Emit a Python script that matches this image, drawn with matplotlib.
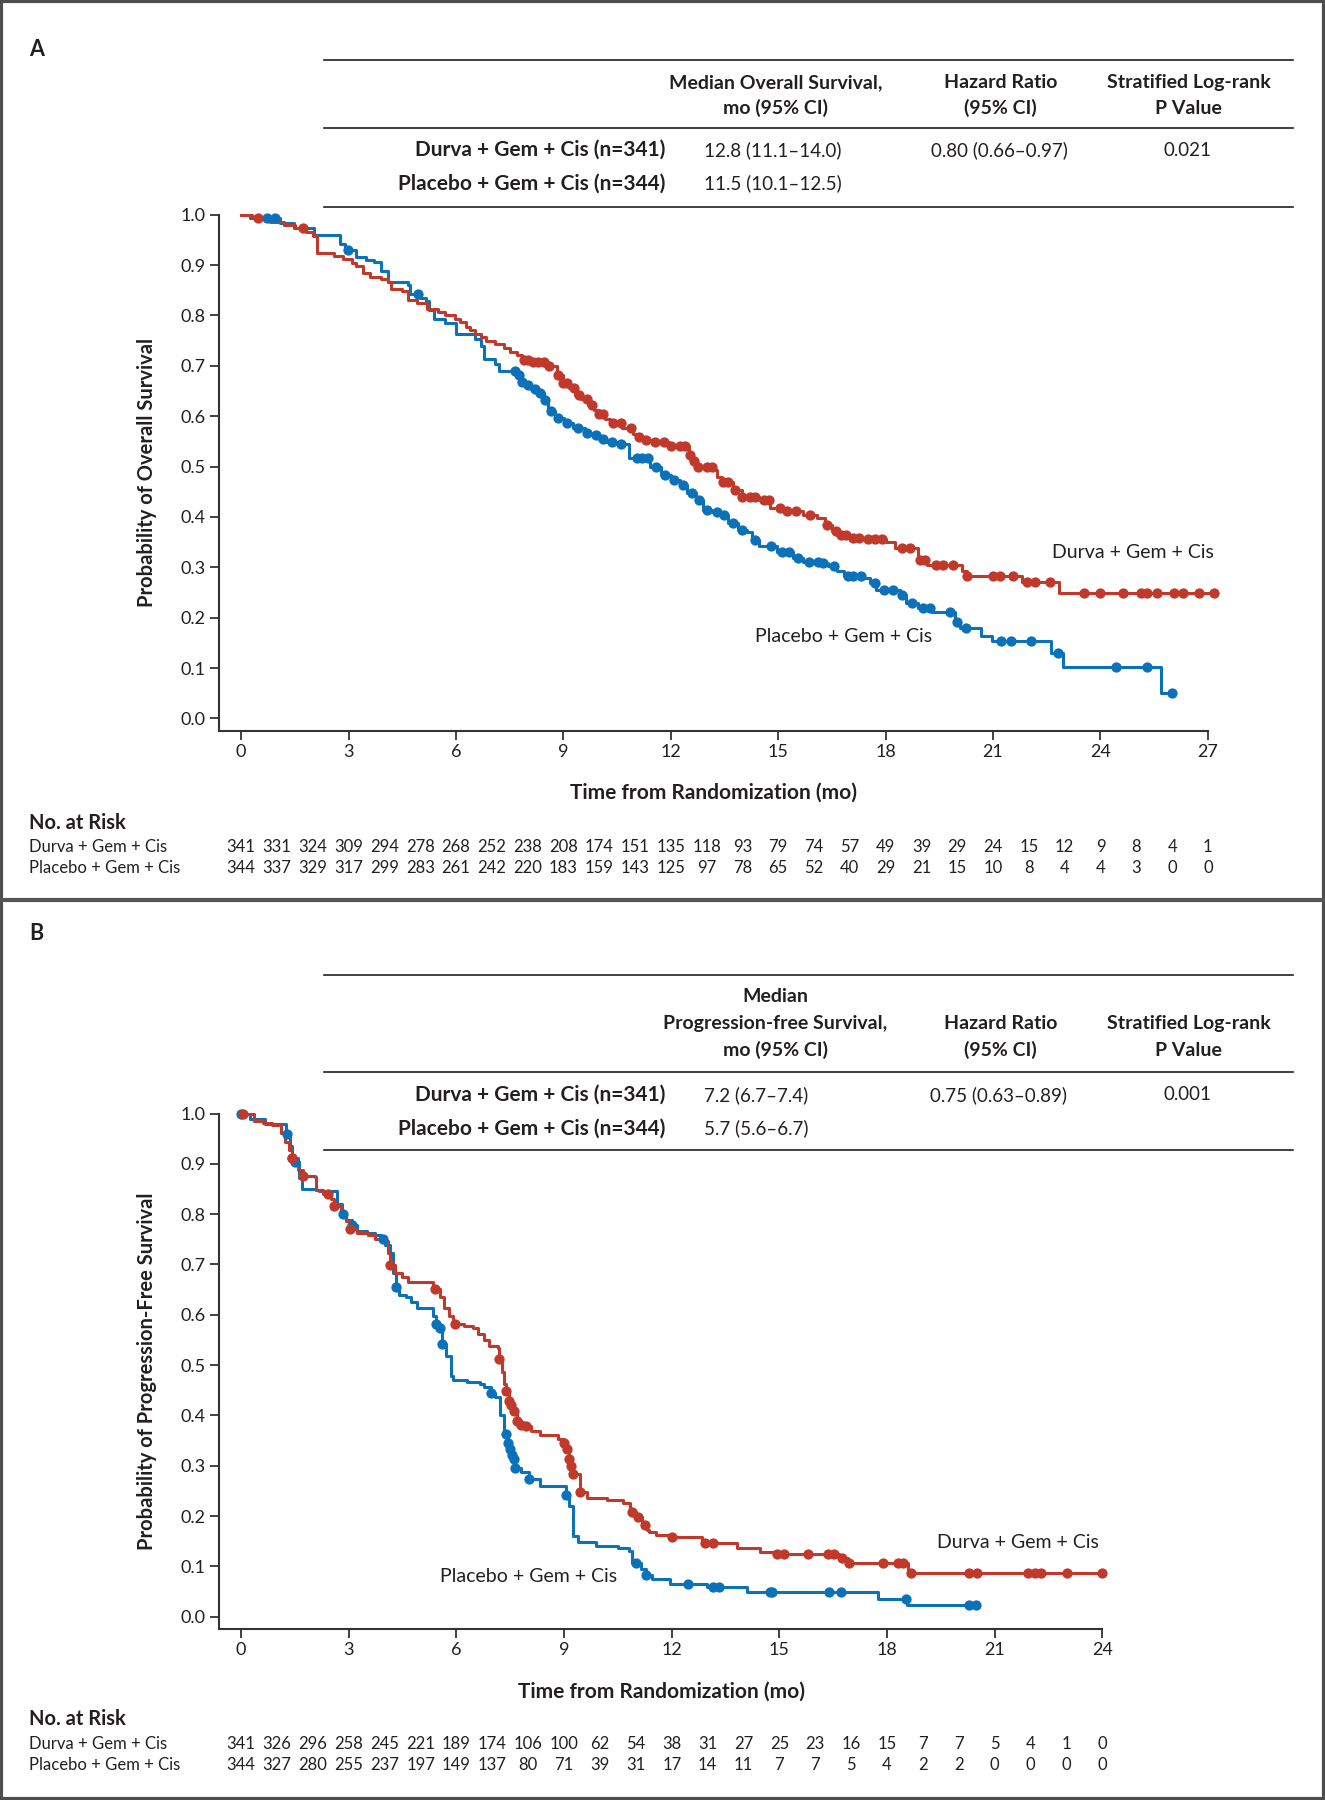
import numpy as np
import matplotlib
matplotlib.use('Agg')
import matplotlib.pyplot as plt
from matplotlib.lines import Line2D
from matplotlib.patches import Rectangle

plt.rcParams['font.family'] = ['Lato', 'DejaVu Sans']

RED = '#C0392B'
BLUE = '#0B72B9'
INK = '#231F20'

# ---- Panel A: overall survival (step times, survival after step) ----
os_durva_t = [0, 0.3, 0.8, 1.2, 1.5, 1.8, 2.0, 2.13, 2.6, 2.85, 3.1, 3.2, 3.4, 3.6, 3.9,
              4.1, 4.2, 4.5, 4.66, 4.9, 5.2, 5.5, 5.7, 5.96, 6.1, 6.27, 6.4, 6.52, 6.7,
              6.83, 7.08, 7.33, 7.5, 7.7, 7.85, 8.1, 8.5, 8.83, 9.0, 9.15, 9.32, 9.5,
              9.7, 9.85, 10.0, 10.15, 10.3, 10.63, 10.94, 11.1, 11.29, 11.55, 11.94,
              12.5, 12.6, 12.7, 13.16, 13.3, 13.42, 13.74, 14.0, 14.45, 14.78, 15.16,
              15.68, 16.07, 16.32, 16.5, 16.65, 16.97, 17.49, 18.0, 18.26, 18.9, 19.16,
              20.13, 20.26, 21.81, 22.84, 27.17]
os_durva_s = [1.0, 0.994, 0.986, 0.98, 0.974, 0.965, 0.957, 0.923, 0.918, 0.913, 0.905,
              0.899, 0.884, 0.877, 0.872, 0.867, 0.852, 0.849, 0.831, 0.824, 0.813, 0.806,
              0.800, 0.792, 0.786, 0.778, 0.771, 0.764, 0.757, 0.750, 0.743, 0.735, 0.728,
              0.721, 0.712, 0.707, 0.700, 0.682, 0.665, 0.655, 0.643, 0.635, 0.622, 0.612,
              0.604, 0.595, 0.587, 0.576, 0.565, 0.558, 0.553, 0.549, 0.540, 0.523, 0.512,
              0.500, 0.493, 0.480, 0.470, 0.454, 0.440, 0.434, 0.417, 0.411, 0.404, 0.397,
              0.384, 0.372, 0.364, 0.358, 0.356, 0.351, 0.338, 0.315, 0.305, 0.292, 0.283,
              0.270, 0.248, 0.248]
os_durva_cens = [0.46, 1.73, 7.9, 8.0, 8.15, 8.3, 8.45, 8.6, 8.85, 9.0, 9.1, 9.3, 9.45,
                 9.65, 9.8, 10.0, 10.1, 10.4, 10.6, 10.9, 11.1, 11.3, 11.55, 11.8, 12.0,
                 12.25, 12.4, 12.55, 12.65, 12.75, 13.0, 13.15, 13.45, 13.6, 13.8, 14.0,
                 14.2, 14.35, 14.6, 14.75, 15.05, 15.25, 15.5, 15.9, 16.35, 16.6, 16.75,
                 16.9, 17.1, 17.25, 17.5, 17.7, 17.9, 18.45, 18.67, 18.95, 19.1, 19.42,
                 19.6, 19.87, 20.26, 21.0, 21.2, 21.55, 21.94, 22.16, 22.58, 23.53, 24.0,
                 24.62, 25.13, 25.3, 25.58, 26.04, 26.3, 26.74, 27.17]

os_plac_t = [0, 0.25, 1.1, 1.48, 2.04, 2.75, 2.9, 3.22, 3.5, 3.72, 3.9, 4.1, 4.66, 4.72,
             5.0, 5.15, 5.25, 5.4, 5.7, 6.0, 6.52, 6.7, 6.77, 7.08, 7.2, 7.7, 7.8, 7.95,
             8.1, 8.33, 8.45, 8.58, 8.76, 9.01, 9.26, 9.6, 9.76, 10.0, 10.2, 10.5, 10.82,
             11.42, 11.74, 12.0, 12.26, 12.45, 12.71, 12.9, 13.16, 13.42, 13.6, 13.87,
             14.13, 14.26, 14.45, 14.97, 15.42, 15.68, 16.2, 16.39, 16.65, 16.84, 17.36,
             17.55, 17.74, 18.39, 18.58, 18.9, 19.29, 19.94, 20.07, 20.65, 20.97, 22.62,
             22.94, 25.68, 26.0]
os_plac_s = [1.0, 0.993, 0.984, 0.973, 0.959, 0.941, 0.93, 0.916, 0.91, 0.906, 0.888,
             0.867, 0.86, 0.842, 0.835, 0.828, 0.81, 0.792, 0.785, 0.764, 0.753, 0.74,
             0.714, 0.704, 0.689, 0.682, 0.668, 0.661, 0.654, 0.647, 0.633, 0.611, 0.597,
             0.587, 0.576, 0.566, 0.562, 0.555, 0.548, 0.544, 0.517, 0.5, 0.483, 0.474,
             0.464, 0.447, 0.434, 0.414, 0.409, 0.404, 0.388, 0.374, 0.371, 0.354, 0.343,
             0.331, 0.318, 0.311, 0.308, 0.302, 0.292, 0.282, 0.278, 0.269, 0.255, 0.245,
             0.229, 0.219, 0.212, 0.192, 0.179, 0.163, 0.153, 0.13, 0.103, 0.05, 0.05]
os_plac_cens = [0.73, 0.95, 2.98, 4.93, 7.64, 7.75, 7.85, 8.0, 8.2, 8.35, 8.5, 8.65, 8.85,
                9.1, 9.4, 9.65, 9.9, 10.1, 10.35, 10.6, 11.05, 11.2, 11.35, 11.6, 11.85,
                12.1, 12.35, 12.6, 12.8, 13.0, 13.3, 13.5, 13.75, 14.0, 14.35, 14.8, 15.1,
                15.3, 15.55, 15.85, 16.1, 16.25, 16.55, 16.95, 17.1, 17.3, 17.7, 17.95,
                18.2, 18.45, 18.75, 19.05, 19.25, 19.8, 20.0, 20.25, 21.23, 21.49, 22.07,
                22.82, 24.42, 25.3, 26.0]

# ---- Panel B: progression-free survival ----
pfs_durva_t = [0, 0.36, 0.6, 0.86, 1.1, 1.23, 1.32, 1.42, 1.58, 1.73, 2.05, 2.1, 2.29, 2.5,
               2.6, 2.79, 2.91, 3.04, 3.22, 3.54, 3.72, 4.03, 4.1, 4.16, 4.28, 4.47, 4.66,
               5.36, 5.53, 5.65, 5.78, 5.9, 6.21, 6.46, 6.6, 6.77, 6.9, 7.15, 7.18, 7.27,
               7.33, 7.39, 7.46, 7.52, 7.6, 7.68, 7.8, 7.95, 8.08, 8.33, 8.83, 9.01, 9.07,
               9.14, 9.2, 9.26, 9.45, 9.64, 10.2, 10.63, 10.84, 11.0, 11.16, 11.3, 11.36,
               11.55, 11.94, 12.84, 13.81, 14.45, 14.9, 16.65, 16.9, 18.58, 24.0]
pfs_durva_s = [1.0, 0.986, 0.982, 0.978, 0.962, 0.943, 0.927, 0.911, 0.888, 0.876, 0.873,
               0.848, 0.84, 0.83, 0.817, 0.80, 0.786, 0.77, 0.762, 0.758, 0.75, 0.746,
               0.723, 0.699, 0.683, 0.676, 0.666, 0.652, 0.636, 0.613, 0.597, 0.581, 0.577,
               0.573, 0.562, 0.55, 0.538, 0.534, 0.512, 0.487, 0.463, 0.448, 0.428, 0.42,
               0.408, 0.389, 0.381, 0.379, 0.369, 0.361, 0.353, 0.346, 0.334, 0.314, 0.299,
               0.283, 0.247, 0.236, 0.232, 0.225, 0.208, 0.198, 0.182, 0.173, 0.169, 0.163,
               0.159, 0.146, 0.136, 0.129, 0.124, 0.116, 0.106, 0.086, 0.086]
pfs_durva_cens = [0.05, 1.42, 1.73, 2.41, 2.6, 3.04, 4.16, 5.4, 5.96, 7.18, 7.39, 7.46,
                  7.52, 7.6, 7.68, 7.8, 7.95, 9.01, 9.07, 9.14, 9.2, 9.26, 9.45, 10.9,
                  11.05, 11.25, 12.0, 12.94, 13.14, 14.94, 15.14, 15.81, 16.35, 16.52,
                  16.75, 16.95, 17.9, 18.32, 18.45, 18.67, 20.28, 20.52, 21.94, 22.13,
                  22.28, 23.03, 24.0]

pfs_plac_t = [0, 0.25, 0.67, 1.26, 1.35, 1.42, 1.5, 1.6, 1.7, 2.1, 2.17, 2.66, 2.8, 2.91,
              3.1, 3.22, 3.5, 3.72, 3.91, 4.0, 4.16, 4.22, 4.31, 4.4, 4.6, 4.72, 4.9, 5.34,
              5.44, 5.53, 5.59, 5.71, 5.84, 5.9, 6.3, 6.65, 6.77, 6.96, 7.08, 7.21, 7.33,
              7.39, 7.45, 7.5, 7.56, 7.6, 7.64, 7.8, 8.02, 8.33, 9.05, 9.14, 9.26, 9.39,
              9.88, 10.5, 10.82, 10.88, 11.15, 11.29, 11.44, 11.94, 12.97, 14.1, 17.74,
              18.55, 20.48]
pfs_plac_s = [1.0, 0.99, 0.98, 0.96, 0.935, 0.911, 0.903, 0.872, 0.85, 0.848, 0.845,
              0.821, 0.80, 0.789, 0.778, 0.766, 0.763, 0.758, 0.75, 0.738, 0.723, 0.683,
              0.656, 0.64, 0.636, 0.625, 0.613, 0.597, 0.581, 0.573, 0.542, 0.518, 0.479,
              0.471, 0.467, 0.463, 0.456, 0.444, 0.436, 0.401, 0.369, 0.363, 0.346, 0.334,
              0.322, 0.314, 0.295, 0.287, 0.273, 0.259, 0.242, 0.22, 0.161, 0.149, 0.141,
              0.137, 0.13, 0.106, 0.095, 0.082, 0.075, 0.066, 0.06, 0.05, 0.036, 0.023,
              0.023]
pfs_plac_cens = [0.0, 1.29, 1.42, 1.5, 2.83, 3.1, 3.95, 4.31, 5.44, 5.53, 5.59, 6.96,
                 7.39, 7.45, 7.5, 7.56, 7.6, 7.64, 8.02, 9.05, 11.0, 11.29, 12.45, 13.16,
                 13.32, 14.75, 14.8, 16.39, 16.71, 18.52, 20.28, 20.48]

# ---- numbers at risk ----
risk_os_durva = [341, 331, 324, 309, 294, 278, 268, 252, 238, 208, 174, 151, 135, 118,
                 93, 79, 74, 57, 49, 39, 29, 24, 15, 12, 9, 8, 4, 1]
risk_os_plac = [344, 337, 329, 317, 299, 283, 261, 242, 220, 183, 159, 143, 125, 97,
                78, 65, 52, 40, 29, 21, 15, 10, 8, 4, 4, 3, 0, 0]
risk_pfs_durva = [341, 326, 296, 258, 245, 221, 189, 174, 106, 100, 62, 54, 38, 31, 27,
                  25, 23, 16, 15, 7, 7, 5, 4, 1, 0]
risk_pfs_plac = [344, 327, 280, 255, 237, 197, 149, 137, 80, 71, 39, 31, 17, 14, 11, 7,
                 7, 5, 4, 2, 2, 0, 0, 0, 0]

arm_durva = 'Durva + Gem + Cis'
arm_plac = 'Placebo + Gem + Cis'
table_os = [['12.8 (11.1\u201314.0)', '0.80 (0.66\u20130.97)', '0.021'],
            ['11.5 (10.1\u201312.5)', '', '']]
table_pfs = [['7.2 (6.7\u20137.4)', '0.75 (0.63\u20130.89)', '0.001'],
             ['5.7 (5.6\u20136.7)', '', '']]

W, H = 1325, 1800
fig = plt.figure(figsize=(W / 100, H / 100), dpi=100)


def fx(px):
    return px / W


def fy(py):
    return 1 - py / H


def hline(y, x0=324, x1=1293, lw=1.2):
    fig.add_artist(Line2D([fx(x0), fx(x1)], [fy(y), fy(y)], color=INK, lw=lw))


def step_val(t, s, x):
    i = np.searchsorted(t, x, side='right') - 1
    return np.array(s)[i]


def km_panel(rect, tmax, curves, ylabel, ylabel_y):
    ax = fig.add_axes(rect)
    for t, s, cens, col in curves:
        ax.step(t, s, where='post', color=col, lw=2.2, clip_on=False, zorder=3)
        ax.plot(cens, step_val(t, s, cens), 'o', color=col, ms=7.4, mew=0,
                clip_on=False, zorder=4)
    ax.set_xlim(-0.624, tmax)
    ax.set_ylim(-0.025, 1.0)
    ax.set_xticks(np.arange(0, tmax + 1, 3))
    ax.set_yticks(np.arange(0, 1.01, 0.1))
    ax.set_yticklabels([f'{v:.1f}' for v in np.arange(0, 1.01, 0.1)])
    for side in ['top', 'right']:
        ax.spines[side].set_visible(False)
    for side in ['left', 'bottom']:
        ax.spines[side].set_linewidth(1.5)
        ax.spines[side].set_color('#333333')
    ax.tick_params(direction='out', length=6.5, width=1.3, color='#333333',
                   labelsize=13, labelcolor=INK, pad=3)
    fig.text(fx(147), fy(ylabel_y), ylabel, rotation=90, ha='center', va='center',
             fontsize=14.5, fontweight='bold', color=INK)
    return ax


def header(lines_y, col_texts):
    for (cx, texts) in col_texts:
        for y, txt in zip(lines_y[-len(texts):], texts):
            fig.text(fx(cx), fy(y), txt, ha='center', va='center', fontsize=14,
                     fontweight='bold', color=INK)


def rows(ys, table):
    for y, name, vals in zip(ys, [arm_durva + ' (n=341)', arm_plac + ' (n=344)'], table):
        fig.text(fx(665), fy(y), name, ha='right', va='center', fontsize=15,
                 fontweight='bold', color=INK)
        fig.text(fx(704), fy(y), vals[0], ha='left', va='center', fontsize=13.5, color=INK)
        fig.text(fx(999), fy(y), vals[1], ha='center', va='center', fontsize=13.5, color=INK)
        fig.text(fx(1188), fy(y), vals[2], ha='center', va='center', fontsize=13.5, color=INK)


def risk_table(ax, y_title, y_rows, risks, tmax):
    fig.text(fx(29), fy(y_title), 'No. at Risk', ha='left', va='center', fontsize=14.5,
             fontweight='bold', color=INK)
    for y, name, vals in zip(y_rows, [arm_durva, arm_plac], risks):
        fig.text(fx(29), fy(y), name, ha='left', va='center', fontsize=12, color=INK)
        for m, v in zip(range(tmax + 1), vals):
            xd = ax.transData.transform((m, 0))[0]
            fig.text(xd / W, fy(y), str(v), ha='center', va='center', fontsize=12,
                     color=INK)


# frame and panel separator
fig.add_artist(Rectangle((0.0008, 0.0008), 0.9984, 0.9984, transform=fig.transFigure,
                         fill=False, ec='#4d4d4d', lw=3))
fig.add_artist(Line2D([0, 1], [fy(900), fy(900)], color='#555555', lw=3))

# ---------------- Panel A ----------------
fig.text(fx(29), fy(49), 'A', ha='left', va='center', fontsize=15.5, fontweight='bold',
         color=INK)
hline(60)
hline(127.7)
hline(206.7)
header([82.7, 108.3], [(775.6, ['Median Overall Survival,', 'mo (95% CI)']),
                       (1000.4, ['Hazard Ratio', '(95% CI)']),
                       (1188.5, ['Stratified Log-rank', 'P Value'])])
rows([150, 183.3], table_os)

rect_a = [218.75 / W, fy(731), (1207.9 - 218.75) / W, (731 - 214.7) / H]
ax_a = km_panel(rect_a, 27, [(os_plac_t, os_plac_s, os_plac_cens, BLUE),
                             (os_durva_t, os_durva_s, os_durva_cens, RED)],
                'Probability of Overall Survival', 472)
fig.text(fx(714), fy(793), 'Time from Randomization (mo)', ha='center', va='center',
         fontsize=15, fontweight='bold', color=INK)
fig.text(fx(1052), fy(552), arm_durva, ha='left', va='center', fontsize=14, color=INK)
fig.text(fx(755), fy(637), arm_plac, ha='left', va='center', fontsize=14, color=INK)
risk_table(ax_a, 823, [847, 868], [risk_os_durva, risk_os_plac], 27)

# ---------------- Panel B ----------------
fig.text(fx(29), fy(934), 'B', ha='left', va='center', fontsize=15.5, fontweight='bold',
         color=INK)
hline(975)
hline(1071.7)
hline(1150)
header([996.7, 1023.3, 1050],
       [(775.6, ['Median', 'Progression-free Survival,', 'mo (95% CI)']),
        (1000.4, ['Hazard Ratio', '(95% CI)']),
        (1188.5, ['Stratified Log-rank', 'P Value'])])
rows([1095, 1128.3], table_pfs)

rect_b = [218.75 / W, fy(1629.3), (1102.3 - 218.75) / W, (1629.3 - 1113.5) / H]
ax_b = km_panel(rect_b, 24, [(pfs_plac_t, pfs_plac_s, pfs_plac_cens, BLUE),
                             (pfs_durva_t, pfs_durva_s, pfs_durva_cens, RED)],
                'Probability of Progression-Free Survival', 1371)
fig.text(fx(661), fy(1692), 'Time from Randomization (mo)', ha='center', va='center',
         fontsize=15, fontweight='bold', color=INK)
fig.text(fx(937), fy(1542), arm_durva, ha='left', va='center', fontsize=14, color=INK)
fig.text(fx(440), fy(1576), arm_plac, ha='left', va='center', fontsize=14, color=INK)
risk_table(ax_b, 1719, [1744, 1765], [risk_pfs_durva, risk_pfs_plac], 24)

fig.savefig('out.png', dpi=100, facecolor='white')
